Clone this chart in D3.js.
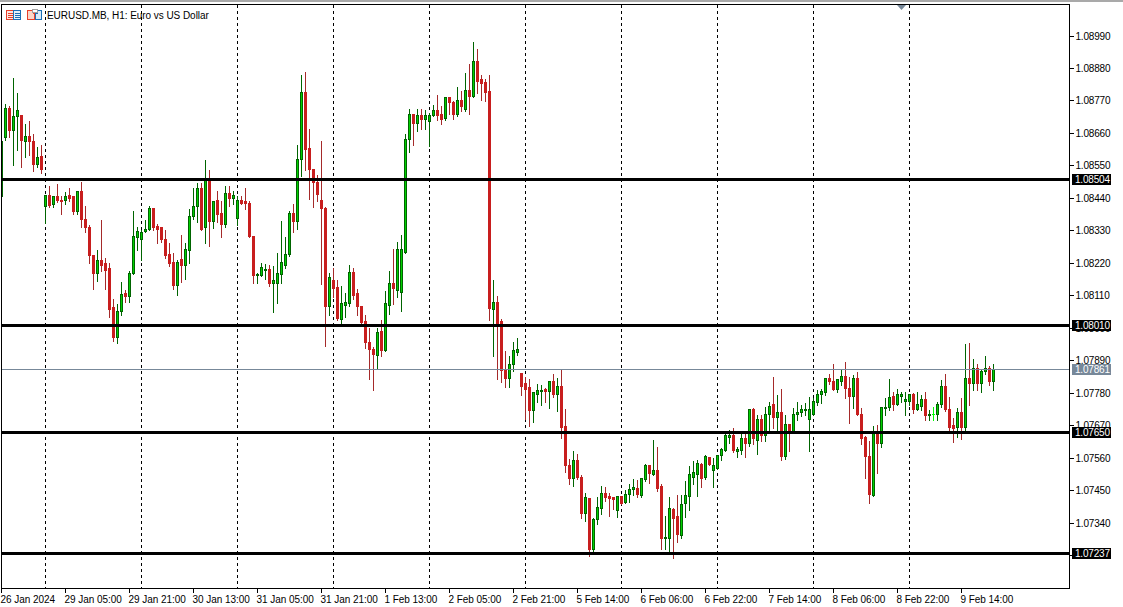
<!DOCTYPE html>
<html><head><meta charset="utf-8">
<style>html,body{margin:0;padding:0;background:#fff}svg{display:block}text{font-family:"Liberation Sans",Arial,sans-serif;font-size:10px;fill:#000}</style>
<script src="https://cdn.jsdelivr.net/npm/d3@7/dist/d3.min.js"></script></head><body><div id="c"></div>
<script>
const title = "EURUSD.MB, H1:  Euro vs US Dollar";
const timeLabels = ["26 Jan 2024","29 Jan 05:00","29 Jan 21:00","30 Jan 13:00","31 Jan 05:00","31 Jan 21:00","1 Feb 13:00","2 Feb 05:00","2 Feb 21:00","5 Feb 14:00","6 Feb 06:00","6 Feb 22:00","7 Feb 14:00","8 Feb 06:00","8 Feb 22:00","9 Feb 14:00"];
const priceTicks = [1.0899,1.0888,1.0877,1.0866,1.0855,1.0844,1.0833,1.0822,1.0811,1.0800,1.0789,1.0778,1.0767,1.0756,1.0745,1.0734,1.0723];
const levels = [1.08504,1.08010,1.07650,1.07237];
const lastPrice = 1.07861;
const opens = [108446,108646,108743,108669,108716,108719,108634,108648,108634,108553,
108583,108412,108451,108420,108445,108433,108431,108450,108445,108394,
108462,108367,108340,108248,108187,108228,108218,108201,108069,107970,
108055,108116,108109,108187,108306,108299,108326,108333,108404,108346,
108340,108302,108251,108224,108143,108234,108214,108262,108377,108414,
108475,108340,108502,108363,108431,108387,108353,108458,108441,108373,
108434,108428,108424,108312,108178,108180,108198,108200,108150,108153,
108183,108214,108251,108390,108363,108570,108797,108610,108539,108492,
108431,108407,108072,108160,108139,108031,108078,108085,108190,108119,
108072,108024,107953,107929,107909,107990,107926,108078,108150,108129,
108122,108258,108641,108725,108692,108719,108708,108702,108719,108739,
108725,108712,108783,108763,108725,108770,108742,108807,108786,108902,
108841,108834,108803,108065,108088,108024,107858,107831,107878,107919,
107845,107811,107798,107720,107774,107785,107791,107784,107818,107774,
107801,107666,107534,107490,107551,107493,107371,107422,107249,107351,
107388,107439,107429,107425,107381,107429,107408,107435,107452,107456,
107432,107486,107534,107503,107517,107462,107286,107286,107385,107361,
107297,107405,107429,107493,107503,107537,107493,107561,107517,107523,
107568,107584,107628,107635,107581,107584,107625,107608,107723,107621,
107692,107635,107706,107740,107696,107716,107564,107675,107648,107706,
107716,107720,107689,107709,107747,107774,107781,107828,107821,107791,
107821,107838,107797,107767,107828,107709,107628,107567,107432,107642,
107608,107730,107730,107767,107743,107770,107750,107753,107777,107726,
107736,107760,107703,107708,107706,107743,107801,107723,107669,107662,
107713,107665,107828,107811,107862,107811,107852,107862,107821].map(p=>p/1e5);
const closes = [108632,108743,108669,108716,108736,108635,108648,108631,108553,108580,
108539,108448,108417,108445,108434,108431,108447,108441,108394,108462,
108367,108340,108245,108184,108228,108214,108197,108065,107970,108058,
108113,108109,108187,108309,108329,108323,108336,108407,108342,108335,
108302,108248,108218,108146,108224,108214,108268,108380,108414,108475,
108336,108502,108363,108428,108384,108353,108458,108441,108451,108434,
108424,108421,108309,108177,108182,108204,108200,108153,108160,108187,
108221,108251,108387,108363,108573,108797,108607,108539,108492,108454,
108404,108072,108173,108133,108034,108082,108088,108190,108112,108072,
108021,107953,107929,107912,107984,107926,108082,108150,108133,108268,
108265,108641,108725,108692,108719,108708,108719,108719,108739,108722,
108708,108783,108763,108725,108773,108752,108807,108786,108905,108837,
108830,108797,108068,108088,108017,107855,107828,107878,107923,107929,
107801,107791,107720,107781,107788,107788,107784,107818,107774,107801,
107662,107534,107490,107551,107493,107371,107425,107249,107351,107391,
107439,107425,107422,107418,107429,107405,107435,107452,107459,107435,
107490,107534,107507,107517,107456,107286,107290,107388,107354,107300,
107402,107432,107503,107510,107540,107490,107564,107537,107534,107568,
107588,107635,107635,107584,107588,107625,107608,107723,107625,107692,
107638,107709,107736,107696,107713,107564,107675,107648,107709,107716,
107726,107726,107726,107753,107777,107784,107828,107818,107794,107825,
107838,107797,107767,107828,107709,107625,107564,107435,107642,107608,
107730,107732,107764,107743,107777,107777,107757,107774,107723,107740,
107760,107703,107709,107708,107743,107801,107723,107665,107659,107716,
107665,107831,107814,107862,107811,107852,107865,107818,107861].map(p=>p/1e5);
const highs = [108643,108760,108755,108851,108800,108719,108692,108703,108658,108614,
108621,108448,108485,108451,108489,108451,108463,108476,108446,108468,
108497,108417,108353,108251,108268,108367,108241,108224,108102,108085,
108157,108130,108197,108400,108346,108333,108367,108417,108404,108356,
108343,108336,108289,108258,108234,108319,108292,108404,108478,108495,
108495,108570,108539,108434,108468,108434,108482,108482,108468,108451,
108448,108478,108434,108312,108190,108221,108220,108217,108214,108258,
108366,108312,108400,108424,108624,108861,108871,108675,108539,108522,
108637,108414,108190,108204,108166,108143,108122,108217,108207,108133,
108075,108048,108004,107939,108004,108028,108129,108197,108271,108295,
108316,108658,108746,108729,108746,108746,108742,108732,108759,108793,
108756,108783,108786,108770,108820,108807,108868,108898,108973,108946,
108861,108847,108858,108166,108112,108034,107923,107909,107956,107970,
107845,107835,107828,107784,107811,107808,107798,107818,107845,107832,
107859,107727,107557,107584,107574,107503,107445,107422,107357,107429,
107466,107462,107442,107429,107432,107432,107452,107473,107490,107486,
107490,107540,107534,107622,107598,107473,107364,107429,107391,107435,
107435,107483,107534,107551,107554,107544,107571,107561,107561,107568,
107595,107642,107656,107662,107598,107642,107655,107726,107733,107709,
107706,107736,107750,107838,107777,107797,107709,107675,107733,107753,
107743,107747,107767,107764,107794,107797,107831,107845,107882,107831,
107862,107886,107838,107842,107852,107730,107635,107618,107672,107675,
107736,107764,107828,107784,107797,107784,107787,107777,107781,107784,
107777,107784,107723,107736,107753,107825,107845,107767,107699,107730,
107764,107947,107950,107896,107879,107865,107906,107875,107879].map(p=>p/1e5);
const lows = [108438,108638,108651,108556,108604,108547,108583,108587,108533,108547,
108526,108358,108414,108412,108429,108387,108421,108431,108389,108388,
108344,108326,108224,108133,108160,108197,108133,108038,107957,107953,
108048,108092,108092,108187,108265,108234,108326,108333,108333,108292,
108295,108238,108214,108136,108113,108157,108170,108224,108373,108360,
108336,108292,108279,108340,108363,108309,108346,108417,108421,108350,
108421,108407,108309,108156,108154,108177,108170,108144,108055,108088,
108156,108207,108248,108329,108339,108519,108536,108441,108414,108431,
108153,107943,108048,108107,108028,108011,108041,108078,108102,108048,
108021,107933,107831,107794,107862,107909,107923,108051,108082,108109,
108061,108258,108600,108624,108671,108675,108675,108620,108719,108708,
108695,108708,108729,108712,108719,108739,108739,108729,108786,108800,
108776,108770,108031,107909,107828,107818,107801,107801,107855,107912,
107774,107693,107669,107683,107750,107740,107750,107730,107767,107720,
107628,107513,107473,107466,107490,107357,107347,107229,107235,107337,
107371,107415,107364,107388,107361,107405,107408,107412,107435,107429,
107429,107483,107476,107503,107449,107252,107252,107242,107222,107276,
107290,107361,107385,107473,107432,107462,107490,107537,107462,107523,
107554,107584,107612,107581,107564,107574,107564,107604,107608,107574,
107621,107618,107655,107662,107655,107554,107557,107587,107648,107692,
107703,107709,107587,107709,107740,107747,107777,107811,107791,107787,
107808,107764,107679,107730,107706,107608,107493,107411,107432,107510,
107598,107709,107726,107723,107743,107753,107706,107740,107716,107726,
107723,107692,107689,107689,107692,107736,107720,107655,107615,107632,
107625,107652,107743,107794,107791,107787,107848,107808,107791].map(p=>p/1e5);

const W=1123,H=607, L=1.5,R=1069.5,T=4.5,B=588.5;
const svg=d3.select("#c").append("svg").attr("width",W).attr("height",H);
svg.append("rect").attr("width",W).attr("height",2).attr("fill","#a9a9a9");
const x=d3.scaleLinear().domain([0,248]).range([1.5,993.5]);
const y=d3.scaleLinear().domain([1.0899,1.0734]).range([36,523]);
const px=v=>Math.round(y(v)-0.5)+0.5;

const clip=svg.append("clipPath").attr("id","plot").append("rect").attr("x",2).attr("y",5).attr("width",R-L-1).attr("height",B-T-1);
const plot=svg.append("g").attr("clip-path","url(#plot)").attr("shape-rendering","crispEdges");

// day separators
const seps=d3.range(11,251,24);
plot.selectAll(".sep").data(seps).join("line").attr("x1",d=>x(d)).attr("x2",d=>x(d)).attr("y1",T).attr("y2",B)
 .attr("stroke","#000").attr("stroke-dasharray","3,3");

// candles
const idx=d3.range(opens.length);
const GREEN="#006400",LIME="#00d000",RED="#c81e1e",WICK="#a52a2a";
const up=i=>closes[i]>=opens[i], doji=i=>opens[i]===closes[i];
plot.selectAll(".wick").data(idx).join("line").attr("x1",i=>x(i)).attr("x2",i=>x(i))
 .attr("y1",i=>px(highs[i])).attr("y2",i=>px(lows[i])+1)
 .attr("stroke",i=>doji(i)?"#00ff00":up(i)?GREEN:WICK);
plot.selectAll(".body").data(idx.filter(i=>!doji(i))).join("rect")
 .attr("x",i=>x(i)-1).attr("width",2)
 .attr("y",i=>px(Math.max(opens[i],closes[i])))
 .attr("height",i=>Math.max(1,px(Math.min(opens[i],closes[i]))-px(Math.max(opens[i],closes[i]))))
 .attr("fill",i=>up(i)?LIME:RED).attr("stroke",i=>up(i)?GREEN:RED);
plot.selectAll(".dj").data(idx.filter(doji)).join("line").attr("x1",i=>x(i)-1.5).attr("x2",i=>x(i)+1.5)
 .attr("y1",i=>px(opens[i])).attr("y2",i=>px(opens[i])).attr("stroke","#00ff00");

// last price line
plot.append("line").attr("x1",L).attr("x2",R).attr("y1",px(lastPrice)).attr("y2",px(lastPrice)).attr("stroke","#778899");
// horizontal levels
plot.selectAll(".lvl").data(levels).join("rect").attr("x",L).attr("width",R-L).attr("y",d=>Math.round(y(d))-1.5+0.0).attr("height",3).attr("fill","#000");

// shift marker
svg.append("path").attr("d","M897 5H906L901.5 10Z").attr("fill","#778899");

// axes
const yAxis=d3.axisRight(y).tickValues(priceTicks).tickFormat(d3.format(".5f")).tickSize(4).tickPadding(2);
const yg=svg.append("g").attr("transform",`translate(${R},0)`).call(yAxis);
yg.selectAll("line").attr("transform","translate(0,0)").attr("shape-rendering","crispEdges").attr("y1",0).attr("y2",0);
yg.select(".domain").remove();
yg.selectAll(".tick").attr("transform",d=>`translate(0,${px(d)})`);
yg.selectAll("text").style("font-family",'"Liberation Sans",Arial,sans-serif').style("font-size","10px").style("letter-spacing","-0.2px");
const timeTicks=timeLabels.map((_,k)=>k*16);
const xAxis=d3.axisBottom(x).tickValues(timeTicks).tickFormat((d,k)=>timeLabels[k]).tickSize(4);
const xg=svg.append("g").attr("transform",`translate(0,${B})`).call(xAxis);
xg.select(".domain").remove();
xg.selectAll("line").attr("shape-rendering","crispEdges");
xg.selectAll(".tick").attr("transform",d=>`translate(${x(d)},0)`);
xg.selectAll("text").attr("text-anchor","start").attr("x",-1).attr("y",7).attr("dy","0.71em").style("font-family",'"Liberation Sans",Arial,sans-serif').style("font-size","10px").style("letter-spacing","-0.05px");

// frame
svg.append("rect").attr("x",L).attr("y",T).attr("width",R-L).attr("height",B-T).attr("fill","none").attr("stroke","#000").attr("shape-rendering","crispEdges");

// price tags
const tags=[...levels.map(v=>({v,bg:"#000"})),{v:lastPrice,bg:"#778899"}];
const tg=svg.selectAll(".tag").data(tags).join("g").attr("transform",d=>`translate(1072,${Math.round(y(d.v))})`);
tg.append("rect").attr("x",0).attr("y",-5).attr("width",39).attr("height",11).attr("fill",d=>d.bg);
tg.append("text").attr("x",3).attr("y",4).style("fill","#fff").style("letter-spacing","-0.2px").text(d=>d3.format(".5f")(d.v));

// title & icons
svg.append("text").attr("x",47).attr("y",19).style("letter-spacing","-0.05px").text(title);
const ic=svg.append("g").attr("shape-rendering","crispEdges").attr("fill","none");
ic.append("rect").attr("x",6.5).attr("y",10.5).attr("width",7).attr("height",9).attr("stroke","#e8402a").attr("fill","#fde6e0");
ic.append("rect").attr("x",13.5).attr("y",10.5).attr("width",7).attr("height",9).attr("stroke","#1a6fb5").attr("fill","#e4f0fa");
[13,15,17].forEach(v=>{ic.append("line").attr("x1",8).attr("x2",13).attr("y1",v+.5).attr("y2",v+.5).attr("stroke","#e8402a");ic.append("line").attr("x1",15).attr("x2",20).attr("y1",v+.5).attr("y2",v+.5).attr("stroke","#1a6fb5");});
ic.append("path").attr("d","M27.5 10.5H33.5V13.5H34.5V19.5H27.5Z").attr("stroke","#e8402a").attr("fill","#fbd5c8");
ic.append("path").attr("d","M35.5 13.5H37.5V10.5H41.5V19.5H35.5Z").attr("stroke","#1a6fb5").attr("fill","#d8e9f7");
ic.append("rect").attr("x",32.5).attr("y",9.5).attr("width",5).attr("height",3).attr("stroke","#a0a0a0").attr("fill","#fff");
</script></body></html>
